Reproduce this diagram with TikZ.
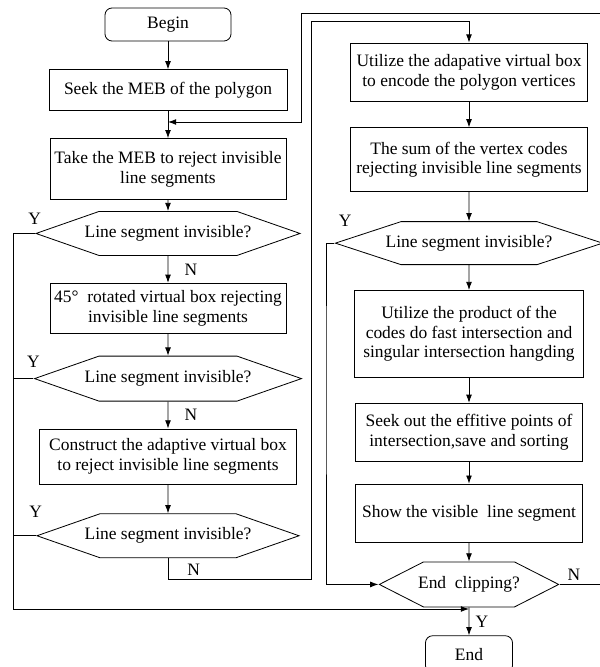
\documentclass[tikz,border=0pt]{standalone}
\usepackage{fontspec}
\setmainfont{Liberation Serif}
\usetikzlibrary{shapes.symbols, arrows.meta, positioning}
\tikzset{
  box/.style  = {rectangle, draw, align=center, minimum width=#1,
                 inner sep=2pt, line width=0.7pt},
  box/.default = 7.1cm,
  term/.style = {box=#1, rounded corners=6pt},
  dec/.style  = {signal, signal to=east and west, signal pointer angle=#1,
                 draw, minimum height=1.32cm, inner xsep=0pt,
                 inner ysep=1pt, line width=0.7pt},
  dec/.default = 38.5,
  arr/.style  = {->, >={Latex[length=7pt, width=5pt]}, line width=0.7pt},
  lin/.style  = {line width=0.7pt},
  lbl/.style  = {inner sep=1pt},
}
% flat part of a test node, the text may run over it
\newcommand{\hexbody}[2]{\makebox[#1]{#2}}

\begin{document}
\begin{tikzpicture}[x=0.03cm, y=0.03cm,
                    font=\fontsize{14.9}{16.8}\selectfont]

  \useasboundingbox (0,0) rectangle (600,667);
  \clip (0,0) rectangle (600,667);

  % left column
  \node[term=3.78cm, minimum height=0.99cm] (begin) at (168,642.5) {Begin};
  \node[box=7.14cm, minimum height=1.23cm, below=0.84cm of begin] (seek)
        {Seek the MEB of the polygon};
  \node[box=7.08cm, minimum height=1.83cm, below=0.81cm of seek]  (take)
        {Take the MEB to reject invisible\\line segments};
  \node[dec, below=0.33cm of take] (d1)
        {\hexbody{4.14cm}{Line segment invisible?}};
  \node[box=7.08cm, minimum height=1.5cm, below=0.81cm of d1]     (rot)
        {45°~ rotated virtual box rejecting\\invisible line segments};
  \node[dec, minimum height=1.35cm, below=0.66cm of rot] (d2)
        {\hexbody{4.14cm}{Line segment invisible?}};
  \node[box=7.71cm, minimum height=1.65cm, below=0.81cm of d2]    (cons)
        {Construct the adaptive virtual box\\to reject invisible line segments};
  \node[dec, below=0.87cm of cons] (d3)
        {\hexbody{4.08cm}{Line segment invisible?}};

  % right column
  \node[box=7.11cm, minimum height=1.74cm] (util) at (469,595)
        {Utilize the adapative virtual box\\to encode the polygon vertices};
  \node[box=7.11cm, minimum height=1.92cm, below=0.78cm of util]  (sum)
        {The sum of the vertex codes\\rejecting invisible line segments};
  \node[dec=36.3, minimum height=1.29cm, below=0.87cm of sum]   (d4)
        {\hexbody{4.08cm}{Line segment invisible?}};
  \node[box=6.87cm, minimum height=2.61cm, below=0.75cm of d4]    (prod)
        {Utilize the product of the\\codes do fast intersection and\\singular intersection hangding};
  \node[box=6.81cm, minimum height=1.74cm, below=0.75cm of prod]  (pts)
        {Seek out the effitive points of\\intersection,save and sorting};
  \node[box=6.81cm, minimum height=1.74cm, below=0.66cm of pts]   (show)
        {Show the visible~ line segment};
  \node[dec=54, minimum height=1.35cm, below=0.57cm of show] (endc)
        {\hexbody{2.73cm}{End~ clipping?}};
  \node[term=2.61cm, minimum height=1.11cm, below=0.84cm of endc] (end) {End};

  % loop points
  \coordinate (lft) at (13,58);
  \coordinate (nr)  at (311,88);
  \coordinate (nt)  at (311,646);
  \coordinate (nc)  at (171,88);
  \coordinate (lp)  at (326,300);
  \coordinate (rt)  at (640,654);
  \coordinate (mg)  at (301,545);

  \draw[arr] (begin) -- (seek);
  \draw[arr] (seek)  -- (take);
  \draw[arr] (take)  -- (d1);
  \draw[arr] (d1)    -- node[lbl, right=0.45cm] (n1) {N} (rot);
  \draw[arr] (rot)   -- (d2);
  \draw[arr] (d2)    -- node[lbl, right=0.45cm] (n2) {N} (cons);
  \draw[arr] (cons)  -- (d3);

  \draw[arr] (util)  -- (sum);
  \draw[arr] (sum)   -- (d4);
  \draw[arr] (d4)    -- (prod);
  \draw[arr] (prod)  -- (pts);
  \draw[arr] (pts)   -- (show);
  \draw[arr] (show)  -- (endc);
  \draw[arr] (endc)  -- node[lbl, right=0.15cm] (y5) {Y} (end);

  % Y branches on the left
  \draw[arr] (d1.west) -| (lft) -- (lft -| end.north);
  \draw[lin] (d2.west) -- (d2.west -| lft);
  \draw[lin] (d3.west) -- (d3.west -| lft);
  \node[lbl, above=0.22cm of d1.west] (y1) {Y};
  \node[lbl, above=0.28cm of d2.west] (y2) {Y};
  \node[lbl, above=0.5cm of d3.west]  (y3) {Y};

  % N of the last test on the left
  \draw[arr] (d3.south) |- (nr) -- (nt) -| (util.north);
  \node[lbl, above right=0.05cm and 0.45cm of nc] (n3) {N};

  % Y of the right test
  \draw[arr] (d4.west) -| (lp) |- (endc.west);
  \node[lbl, above right=0.45cm and 0.1cm of d4.west] (y4) {Y};

  % N of end clipping
  \draw[arr] (endc.east) -| (rt) -| (mg) -- (mg -| seek.south);
  \node[lbl, above right=0.08cm and 0.2cm of endc.east] (n4) {N};

\end{tikzpicture}
\end{document}
